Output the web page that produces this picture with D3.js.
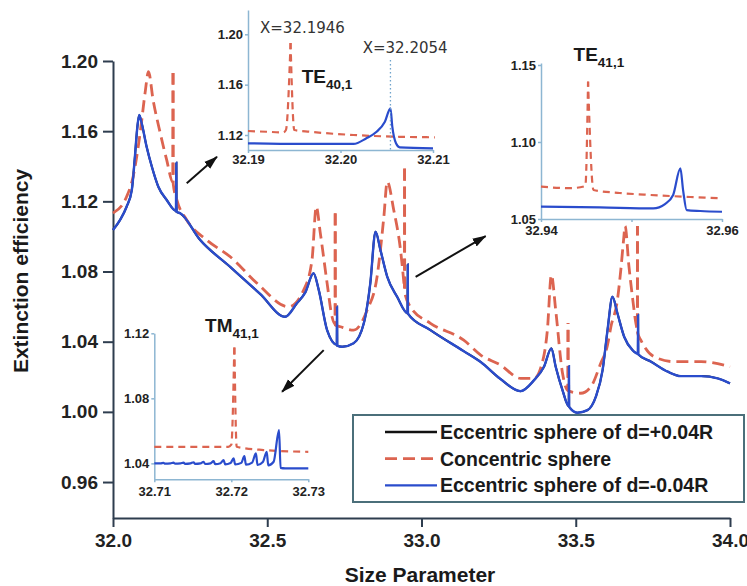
<!DOCTYPE html>
<meta charset="utf-8">
<title>Extinction efficiency vs size parameter</title>
<style>
body {
  margin: 0px;
  background: #fff;
}
svg {
  font-family: "Liberation Sans", Arial, sans-serif;
}
.main-axis path, .main-axis line {
  stroke: #2e3d4f;
  stroke-width: 2px;
}
.main-axis text {
  font-size: 19px;
  font-weight: bold;
  fill: #222;
}
.inset-axis path, .inset-axis line {
  stroke: #8db6d2;
  stroke-width: 1.5px;
}
.inset-axis text {
  font-size: 13px;
  font-weight: bold;
  fill: #222;
}
.title {
  font-size: 21px;
  font-weight: bold;
  fill: #1a1a1a;
}
.mode {
  font-weight: bold;
  fill: #1a1a1a;
}
.xlabel {
  font-family: "DejaVu Sans", sans-serif;
  font-size: 15px;
  fill: #333;
}
.legend text {
  font-size: 19.5px;
  font-weight: bold;
  fill: #1a1a1a;
}
</style>

<script src="https://d3js.org/d3.v7.min.js"></script>

<body>
<script>
// ---- data: [size parameter, extinction efficiency] ----
// eccentric sphere, d = -0.04R (blue)
var minusMain = [
  [32.000,1.1037],[32.023,1.1094],[32.044,1.1169],[32.061,1.1265],[32.071,1.1454],
  [32.079,1.1625],[32.085,1.1692],[32.093,1.1645],[32.109,1.1511],[32.126,1.1397],
  [32.147,1.1283],[32.174,1.1208],[32.2040,1.1146],[32.2054,1.1420],[32.2060,1.1140],
  [32.218,1.1132],[32.282,1.0981],[32.380,1.0826],[32.477,1.0672],[32.558,1.0542],
  [32.596,1.0619],[32.623,1.0680],[32.650,1.0790],[32.667,1.0694],[32.694,1.0466],
  [32.7255,1.0383],[32.7262,1.0599],[32.7268,1.0378],[32.743,1.0371],[32.780,1.0391],
  [32.813,1.0505],[32.834,1.0733],[32.851,1.1027],[32.867,1.0922],[32.889,1.0770],
  [32.921,1.0656],[32.9548,1.0562],[32.9554,1.0840],[32.9560,1.0560],[33.029,1.0466],
  [33.136,1.0347],[33.192,1.0284],[33.256,1.0187],[33.321,1.0118],[33.365,1.0181],
  [33.397,1.0257],[33.421,1.0362],[33.435,1.0257],[33.457,1.0124],[33.4775,1.0032],
  [33.478,1.0261],[33.4785,1.0029],[33.505,0.9995],[33.538,1.0010],[33.565,1.0086],
  [33.587,1.0238],[33.603,1.0466],[33.619,1.0656],[33.635,1.0562],[33.657,1.0428],
  [33.684,1.0352],[33.7015,1.0332],[33.702,1.0552],[33.7025,1.0328],[33.744,1.0286],
  [33.798,1.0229],[33.841,1.0204],[33.906,1.0204],[33.960,1.0191],[34.000,1.0162]
];
// eccentric sphere, d = +0.04R (black) lies under the blue curve at this scale
var plusMain = minusMain.slice();
// concentric sphere (red dashed)
var concMain = [
  [32.000,1.1133],[32.044,1.1226],[32.065,1.1339],[32.088,1.1590],[32.104,1.1818],
  [32.115,1.1939],[32.130,1.1778],[32.153,1.1590],[32.174,1.1436],[32.1940,1.1310],
  [32.1946,1.1932],[32.1952,1.1300],[32.207,1.1208],[32.239,1.1094],[32.304,1.0979],
  [32.380,1.0884],[32.467,1.0733],[32.569,1.0599],[32.618,1.0694],[32.645,1.0865],
  [32.659,1.1169],[32.672,1.1019],[32.694,1.0734],[32.710,1.0542],[32.7198,1.0500],
  [32.7203,1.1151],[32.7208,1.0495],[32.737,1.0485],[32.780,1.0466],[32.824,1.0580],
  [32.856,1.0770],[32.878,1.1112],[32.889,1.1312],[32.910,1.1151],[32.932,1.0922],
  [32.943,1.0734],[32.9447,1.0700],[32.9452,1.1407],[32.9457,1.0680],[32.964,1.0599],
  [33.029,1.0505],[33.137,1.0409],[33.192,1.0324],[33.256,1.0267],[33.321,1.0191],
  [33.365,1.0191],[33.396,1.0314],[33.408,1.0466],[33.421,1.0780],[33.435,1.0580],
  [33.457,1.0221],[33.4745,1.0124],[33.475,1.0506],[33.4755,1.0120],[33.516,1.0106],
  [33.549,1.0143],[33.581,1.0277],[33.603,1.0381],[33.614,1.0485],[33.635,1.0637],
  [33.646,1.0808],[33.655,1.0979],[33.660,1.1059],[33.672,1.0837],[33.685,1.0637],
  [33.696,1.0495],[33.6995,1.0470],[33.700,1.1059],[33.7005,1.0450],[33.711,1.0409],
  [33.754,1.0314],[33.819,1.0286],[33.906,1.0286],[34.000,1.0257]
];
// sharp resonances of the concentric curve (x of each spike top)
var concSpikes = [32.1946, 32.7203, 32.9452, 33.475, 33.700];

// inset TE40,1
var te40Conc = [[32.1900,1.1232],[32.1920,1.1226],[32.1938,1.1221],[32.1941,1.1240],[32.1946,1.1931],
  [32.1950,1.1240],[32.1967,1.1226],[32.2014,1.1200],[32.2064,1.1186],[32.2102,1.1182]];
var te40Minus = [[32.1900,1.1134],[32.1956,1.1129],[32.2014,1.1129],[32.2028,1.1174],[32.2039,1.1226],
  [32.2048,1.1306],[32.2054,1.1412],[32.2056,1.1266],[32.2060,1.1134],[32.2064,1.1102],[32.2100,1.1094]];
// inset TE41,1
var te41Conc = [[32.9400,1.0710],[32.9432,1.0700],[32.9449,1.0714],[32.9452,1.1392],[32.9458,1.0688],
  [32.9487,1.0669],[32.9521,1.0656],[32.9565,1.0643],[32.9600,1.0634]];
var te41Minus = [[32.9400,1.0580],[32.9465,1.0575],[32.9524,1.0569],[32.9537,1.0597],[32.9546,1.0656],
  [32.9554,1.0829],[32.9557,1.0688],[32.9561,1.0558],[32.9576,1.0552],[32.9600,1.0547]];
// inset TM41,1
var tm41Conc = [[32.7100,1.0502],[32.7160,1.0502],[32.7196,1.0502],[32.7200,1.0515],[32.7204,1.1138],
  [32.7207,1.0502],[32.7242,1.0482],[32.7300,1.0471]];
var tm41Minus = [
  [32.7100,1.0400],[32.7108,1.0400],[32.7112,1.0403],[32.7114,1.0398],[32.7121,1.0400],
  [32.7125,1.0404],[32.7127,1.0398],[32.7134,1.0400],[32.7138,1.0405],[32.7140,1.0397],
  [32.7147,1.0400],[32.7151,1.0407],[32.7153,1.0397],[32.7160,1.0400],[32.7164,1.0410],
  [32.7166,1.0396],[32.7173,1.0400],[32.7177,1.0414],[32.7179,1.0395],[32.7186,1.0401],
  [32.7190,1.0420],[32.7192,1.0394],[32.7199,1.0402],[32.7203,1.0431],[32.7205,1.0393],
  [32.7213,1.0403],[32.7217,1.0445],[32.7219,1.0392],[32.7227,1.0405],[32.7232,1.0462],
  [32.7234,1.0390],[32.7241,1.0408],[32.7246,1.0471],[32.7248,1.0388],[32.7255,1.0410],
  [32.7262,1.0605],[32.7264,1.0372],[32.7270,1.0369],[32.7300,1.0369]
];

var xMajor = [32.0, 32.5, 33.0, 33.5, 34.0];
var xMinor = [32.25, 32.75, 33.25, 33.75];
var yMajor = [0.96, 1.00, 1.04, 1.08, 1.12, 1.16, 1.20];
var yMinor = [0.98, 1.02, 1.06, 1.10, 1.14, 1.18];
var legendLabels = ["Eccentric sphere of d=+0.04R", "Concentric sphere", "Eccentric sphere of d=-0.04R"];

// arrows from the main curve towards the insets (data coordinates)
var arrows = [
  {from: [32.239, 1.1303], to: [32.337, 1.1454]},
  {from: [32.981, 1.0770], to: [33.208, 1.1002]},
  {from: [32.683, 1.0352], to: [32.548, 1.0115]}
];

var width = 747, height = 586;
var blue = "#2a4ccc", red = "#dc6450", black = "#111";

var svg = d3.select("body").append("svg")
    .attr("width", width)
    .attr("height", height);

svg.append("defs").append("marker")
    .attr("id", "arrowhead")
    .attr("markerUnits", "userSpaceOnUse")
    .attr("viewBox", "0 -5 14 10")
    .attr("refX", 13)
    .attr("refY", 0)
    .attr("markerWidth", 14)
    .attr("markerHeight", 10)
    .attr("orient", "auto")
  .append("path")
    .attr("d", "M0,-4.5L14,0L0,4.5Z")
    .attr("fill", black);

// Dashed curve cut at each spike top; the dash offset of the descending piece
// mirrors the ascending one so a thin spike still reads as one dashed line.
function dashedCurve(g, data, lineGen, spikes, dash, gap, widthPx) {
  var pieces = [], cur = [];
  data.forEach(function(d) {
    cur.push(d);
    if (spikes.indexOf(d[0]) >= 0) { pieces.push(cur); cur = [d]; }
  });
  pieces.push(cur);
  var period = dash + gap, offset = 0;
  pieces.forEach(function(p) {
    var path = g.append("path").datum(p)
        .attr("d", lineGen).attr("fill", "none")
        .attr("stroke", red).attr("stroke-width", widthPx)
        .attr("stroke-dasharray", dash + "," + gap)
        .attr("stroke-dashoffset", offset);
    var end = path.node().getTotalLength() + offset;
    offset = (((dash - end) % period) + period) % period;
  });
}

// ---- main plot ----
var x = d3.scaleLinear().domain([32, 34]).range([113, 730]);
var y = d3.scaleLinear().domain([0.9395, 1.20]).range([518, 61]);

var line = d3.line()
    .curve(d3.curveMonotoneX)
    .x(function(d) { return x(d[0]); })
    .y(function(d) { return y(d[1]); });

var gx = svg.append("g")
    .attr("class", "main-axis")
    .attr("transform", "translate(0,518)");
gx.call(d3.axisBottom(x).tickValues(xMinor).tickSize(5).tickSizeOuter(0).tickFormat(""));
gx.call(d3.axisBottom(x).tickValues(xMajor).tickSize(9).tickSizeOuter(0).tickPadding(7)
    .tickFormat(d3.format(".1f")));

var gy = svg.append("g")
    .attr("class", "main-axis")
    .attr("transform", "translate(113,0)");
gy.call(d3.axisLeft(y).tickValues(yMinor).tickSize(6).tickSizeOuter(0).tickFormat(""));
gy.call(d3.axisLeft(y).tickValues(yMajor).tickSize(10).tickSizeOuter(0).tickPadding(5)
    .tickFormat(d3.format(".2f")));

svg.append("text")
    .attr("class", "title")
    .attr("x", 420)
    .attr("y", 582)
    .attr("text-anchor", "middle")
    .text("Size Parameter");

svg.append("text")
    .attr("class", "title")
    .attr("transform", "translate(28,271) rotate(-90)")
    .attr("text-anchor", "middle")
    .text("Extinction efficiency");

svg.append("path").datum(plusMain)
    .attr("d", line).attr("fill", "none")
    .attr("stroke", black).attr("stroke-width", 2);
dashedCurve(svg, concMain, line, concSpikes, 12, 6, 2.8);
svg.append("path").datum(minusMain)
    .attr("d", line).attr("fill", "none")
    .attr("stroke", blue).attr("stroke-width", 2.4);

svg.selectAll("line.arrow")
    .data(arrows)
  .enter().append("line")
    .attr("class", "arrow")
    .attr("x1", function(d) { return x(d.from[0]); })
    .attr("y1", function(d) { return y(d.from[1]); })
    .attr("x2", function(d) { return x(d.to[0]); })
    .attr("y2", function(d) { return y(d.to[1]); })
    .attr("stroke", black)
    .attr("stroke-width", 2)
    .attr("marker-end", "url(#arrowhead)");

// ---- insets ----
function inset(o) {
  var ix = d3.scaleLinear().domain(o.xDomain).range(o.xRange);
  var iy = d3.scaleLinear().domain(o.yDomain).range(o.yRange);
  var g = svg.append("g");
  var ax = g.append("g").attr("class", "inset-axis")
      .attr("transform", "translate(0," + o.yRange[0] + ")");
  ax.call(d3.axisBottom(ix).tickValues(o.xTicks).tickSize(3).tickSizeOuter(0)
      .tickPadding(o.xPad)
      .tickFormat(function(d) { return o.xLabels.indexOf(d) >= 0 ? d3.format(".2f")(d) : ""; }));
  var ay = g.append("g").attr("class", "inset-axis")
      .attr("transform", "translate(" + o.xRange[0] + ",0)");
  ay.call(d3.axisLeft(iy).tickValues(o.yTicks).tickSize(3).tickSizeOuter(0)
      .tickPadding(2).tickFormat(d3.format(".2f")));
  var l = d3.line()
      .curve(d3.curveMonotoneX)
      .x(function(d) { return ix(d[0]); })
      .y(function(d) { return iy(d[1]); });
  dashedCurve(g, o.conc, l, [o.spike], 7, 5, 2.2);
  g.append("path").datum(o.minus)
      .attr("d", l).attr("fill", "none")
      .attr("stroke", blue).attr("stroke-width", 2.2);
  var t = g.append("text").attr("class", "mode")
      .attr("x", ix(o.label[0])).attr("y", iy(o.label[1]));
  t.append("tspan").style("font-size", "19px").text(o.mode);
  t.append("tspan").style("font-size", "13.5px").attr("dy", 6).text(o.sub);
  return {x: ix, y: iy, g: g};
}

var in1 = inset({
  xDomain: [32.19, 32.21], xRange: [248, 433],
  yDomain: [1.1081, 1.2193], yRange: [150, 10],
  xTicks: [32.19, 32.20, 32.21], xLabels: [32.19, 32.20, 32.21],
  yTicks: [1.12, 1.16, 1.20], xPad: 2,
  conc: te40Conc, minus: te40Minus, spike: 32.1946,
  mode: "TE", sub: "40,1", label: [32.1958, 1.1613]
});
in1.g.append("line")
    .attr("x1", in1.x(32.2054)).attr("x2", in1.x(32.2054))
    .attr("y1", in1.y(1.1796)).attr("y2", in1.y(1.1081))
    .attr("stroke", "#6fa3cc").attr("stroke-width", 1.3)
    .attr("stroke-dasharray", "1.5,2.5");
in1.g.append("text").attr("class", "xlabel")
    .attr("x", in1.x(32.1913)).attr("y", in1.y(1.2010))
    .text("X=32.1946");
in1.g.append("text").attr("class", "xlabel")
    .attr("x", in1.x(32.2024)).attr("y", in1.y(1.1851))
    .text("X=32.2054");

inset({
  xDomain: [32.94, 32.96], xRange: [541, 722],
  yDomain: [1.05, 1.1513], yRange: [219, 63],
  xTicks: [32.94, 32.95, 32.96], xLabels: [32.94, 32.96],
  yTicks: [1.05, 1.10, 1.15], xPad: 4,
  conc: te41Conc, minus: te41Minus, spike: 32.9452,
  mode: "TE", sub: "41,1", label: [32.9436, 1.1529]
});

inset({
  xDomain: [32.71, 32.73], xRange: [154.3, 308.3],
  yDomain: [1.0302, 1.12], yRange: [479.3, 333.3],
  xTicks: [32.71, 32.72, 32.73], xLabels: [32.71, 32.72, 32.73],
  yTicks: [1.04, 1.08, 1.12], xPad: 4,
  conc: tm41Conc, minus: tm41Minus, spike: 32.7204,
  mode: "TM", sub: "41,1", label: [32.7166, 1.1210]
});

// ---- legend ----
var legend = svg.append("g").attr("class", "legend");
legend.append("rect")
    .attr("x", 353).attr("y", 415)
    .attr("width", 391).attr("height", 87)
    .attr("fill", "#fff")
    .attr("stroke", "#4b6f7a")
    .attr("stroke-width", 2);
var items = legend.selectAll("g.item")
    .data(legendLabels)
  .enter().append("g")
    .attr("class", "item")
    .attr("transform", function(d, i) { return "translate(0," + (432 + i * 26.7) + ")"; });
items.append("line")
    .attr("x1", 385).attr("x2", 437)
    .attr("stroke", function(d, i) { return [black, red, blue][i]; })
    .attr("stroke-width", function(d, i) { return i === 1 ? 2.8 : 2.4; })
    .attr("stroke-dasharray", function(d, i) { return i === 1 ? "12,6" : null; });
items.append("text")
    .attr("x", 440)
    .attr("dy", "0.35em")
    .text(function(d) { return d; });
</script>
